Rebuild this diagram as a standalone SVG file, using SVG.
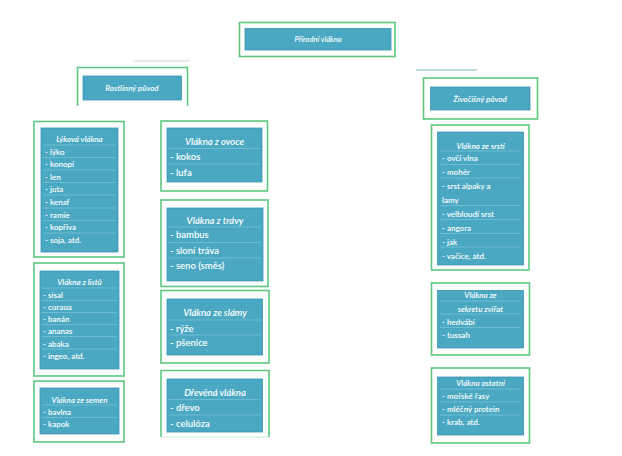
<svg xmlns="http://www.w3.org/2000/svg" width="622" height="456" viewBox="0 0 622 456">
<style>
.o{fill:#fff;stroke:#5cc77f;stroke-width:1.6}
.b{fill:#4aa8c2;stroke:#3d95ae;stroke-width:0.8}
.s{stroke:#86c9dc;stroke-width:0.6}
text{font-family:Lato,"Open Sans","Liberation Sans",sans-serif;fill:#fff}
.t{font-style:italic;font-weight:600;text-anchor:middle}
.sm{font-size:8px}
.md{font-size:9.5px}
.it{font-weight:600}
</style>
<rect width="622" height="456" fill="#fff"/>
<g id="connectors">
<line x1="133" y1="61" x2="190" y2="61" stroke="#d6d6d6" stroke-width="1"/>
<line x1="416" y1="70" x2="477" y2="70" stroke="#7bbfa5" stroke-width="1"/>
</g>
<g id="prirodni">
<rect class="o" x="239.5" y="22.5" width="155.5" height="34"/>
<rect class="b" x="245" y="28.5" width="146" height="21.5"/>
<text class="t" x="318" y="42" font-size="7.5">Přírodní vlákna</text>
</g>
<g id="rostlinny">
<path d="M77.5 106V67.5H187.5V106" fill="#fff" stroke="#5cc77f" stroke-width="1.6"/>
<rect class="b" x="83" y="76" width="98.5" height="24"/>
<text class="t" x="132" y="91" font-size="8">Rostlinný původ</text>
</g>
<g id="zivocisny">
<rect class="o" x="423.5" y="78" width="114" height="41"/>
<rect class="b" x="430.5" y="87" width="99.5" height="23"/>
<text class="t" x="480" y="101.5" font-size="8">Živočišný původ</text>
</g>
<g id="lykova">
<rect class="o" x="34" y="121.5" width="90" height="135.5"/>
<rect class="b" x="41" y="128" width="77" height="124"/>
<g class="s"><line x1="43" y1="145" x2="116" y2="145"/><line x1="43" y1="157.5" x2="116" y2="157.5"/><line x1="43" y1="170" x2="116" y2="170"/><line x1="43" y1="182.5" x2="116" y2="182.5"/><line x1="43" y1="195" x2="116" y2="195"/><line x1="43" y1="208" x2="116" y2="208"/><line x1="43" y1="220.5" x2="116" y2="220.5"/><line x1="43" y1="233" x2="116" y2="233"/></g>
<text class="t sm" x="79.5" y="142">Lýková vlákna</text>
<g class="sm it">
<text x="45" y="154.5">- lýko</text>
<text x="45" y="167">- konopí</text>
<text x="45" y="179.5">- len</text>
<text x="45" y="192">- juta</text>
<text x="45" y="205">- kenaf</text>
<text x="45" y="217.5">- ramie</text>
<text x="45" y="230">- kopřiva</text>
<text x="45" y="243">- soja, atd.</text>
</g>
</g>
<g id="listu">
<rect class="o" x="34" y="263" width="90" height="113"/>
<rect class="b" x="40" y="271" width="79" height="98"/>
<g class="s"><line x1="42" y1="288" x2="117" y2="288"/><line x1="42" y1="300.5" x2="117" y2="300.5"/><line x1="42" y1="312.5" x2="117" y2="312.5"/><line x1="42" y1="324.5" x2="117" y2="324.5"/><line x1="42" y1="336.5" x2="117" y2="336.5"/><line x1="42" y1="349" x2="117" y2="349"/></g>
<text class="t sm" x="79.5" y="285">Vlákna z listů</text>
<g class="sm it">
<text x="43" y="298">- sisal</text>
<text x="43" y="310">- curaua</text>
<text x="43" y="322">- banán</text>
<text x="43" y="334">- ananas</text>
<text x="43" y="346.5">- abaka</text>
<text x="43" y="359">- ingeo, atd.</text>
</g>
</g>
<g id="semen">
<rect class="o" x="34" y="381" width="90" height="61"/>
<rect class="b" x="40" y="388" width="79" height="46"/>
<g class="s"><line x1="42" y1="405" x2="117" y2="405"/><line x1="42" y1="417.5" x2="117" y2="417.5"/></g>
<text class="t sm" x="79.5" y="402.5">Vlákna ze semen</text>
<g class="sm it">
<text x="43" y="414.5">- bavlna</text>
<text x="43" y="427">- kapok</text>
</g>
</g>
<g id="ovoce">
<rect class="o" x="161" y="121" width="106.5" height="70"/>
<rect class="b" x="167" y="128" width="95" height="54"/>
<g class="s"><line x1="169" y1="148.5" x2="260" y2="148.5"/><line x1="169" y1="164" x2="260" y2="164"/></g>
<text class="t md" x="214.5" y="145">Vlákna z ovoce</text>
<g class="md it">
<text x="170" y="160">- kokos</text>
<text x="170" y="175.5">- lufa</text>
</g>
</g>
<g id="travy">
<rect class="o" x="161" y="200" width="107" height="86.5"/>
<rect class="b" x="167" y="208" width="96" height="73"/>
<g class="s"><line x1="169" y1="227" x2="261" y2="227"/><line x1="169" y1="242.5" x2="261" y2="242.5"/><line x1="169" y1="258" x2="261" y2="258"/></g>
<text class="t md" x="215" y="224">Vlákna z trávy</text>
<g class="md it">
<text x="170" y="238">- bambus</text>
<text x="170" y="253.5">- sloní tráva</text>
<text x="170" y="269">- seno (směs)</text>
</g>
</g>
<g id="slamy">
<rect class="o" x="161" y="290.5" width="108" height="72.5"/>
<rect class="b" x="167" y="299" width="95.5" height="56"/>
<g class="s"><line x1="169" y1="320" x2="260.5" y2="320"/><line x1="169" y1="335" x2="260.5" y2="335"/></g>
<text class="t md" x="215" y="316">Vlákna ze slámy</text>
<g class="md it">
<text x="170" y="331.5">- rýže</text>
<text x="170" y="346">- pšenice</text>
</g>
</g>
<g id="drevena">
<path d="M161 437V370.5H269V437" fill="#fff" stroke="#5cc77f" stroke-width="1.6"/>
<line x1="161" y1="437" x2="269" y2="437" stroke="#cfe9d8" stroke-width="1"/>
<rect class="b" x="167" y="379" width="95.5" height="53"/>
<g class="s"><line x1="169" y1="399.5" x2="260.5" y2="399.5"/><line x1="169" y1="415" x2="260.5" y2="415"/></g>
<text class="t md" x="215" y="396">Dřevěná vlákna</text>
<g class="md it">
<text x="170" y="410.5">- dřevo</text>
<text x="170" y="426.5">- celulóza</text>
</g>
</g>
<g id="srsti">
<rect class="o" x="431.5" y="125" width="97.5" height="145"/>
<rect class="b" x="437.5" y="132" width="86" height="133"/>
<g class="s"><line x1="440" y1="151" x2="521" y2="151"/><line x1="440" y1="164.5" x2="521" y2="164.5"/><line x1="440" y1="178" x2="521" y2="178"/><line x1="440" y1="205.5" x2="521" y2="205.5"/><line x1="440" y1="219.5" x2="521" y2="219.5"/><line x1="440" y1="233.5" x2="521" y2="233.5"/><line x1="440" y1="247" x2="521" y2="247"/></g>
<text class="t sm" x="480.5" y="148.5">Vlákno ze srstí</text>
<g class="sm it">
<text x="442" y="161">- ovčí vlna</text>
<text x="442" y="175">- mohér</text>
<text x="442" y="189">- srst alpaky a</text>
<text x="442" y="202.5">lamy</text>
<text x="442" y="216.5">- velbloudí srst</text>
<text x="442" y="231">- angora</text>
<text x="442" y="244.5">- jak</text>
<text x="442" y="258.5">- vačice, atd.</text>
</g>
</g>
<g id="sekretu">
<rect class="o" x="431.5" y="283" width="98" height="72"/>
<rect class="b" x="437.5" y="290.5" width="86" height="57.5"/>
<g class="s"><line x1="440" y1="301" x2="521" y2="301"/><line x1="440" y1="314" x2="521" y2="314"/><line x1="440" y1="327.5" x2="521" y2="327.5"/></g>
<text class="t sm" x="480.5" y="298">Vlákna ze</text>
<text class="t sm" x="480.5" y="311.5">sekretu zvířat</text>
<g class="sm it">
<text x="442" y="324.5">- hedvábí</text>
<text x="442" y="338">- tussah</text>
</g>
</g>
<g id="ostatni">
<rect class="o" x="431.5" y="368" width="98" height="75"/>
<rect class="b" x="437.5" y="377" width="86" height="58"/>
<g class="s"><line x1="440" y1="389" x2="521" y2="389"/><line x1="440" y1="402" x2="521" y2="402"/><line x1="440" y1="415" x2="521" y2="415"/></g>
<text class="t sm" x="480.5" y="385.5">Vlákna ostatní</text>
<g class="sm it">
<text x="442" y="399">- mořské řasy</text>
<text x="442" y="411.5">- mléčný protein</text>
<text x="442" y="425">- krab, atd.</text>
</g>
</g>
</svg>
